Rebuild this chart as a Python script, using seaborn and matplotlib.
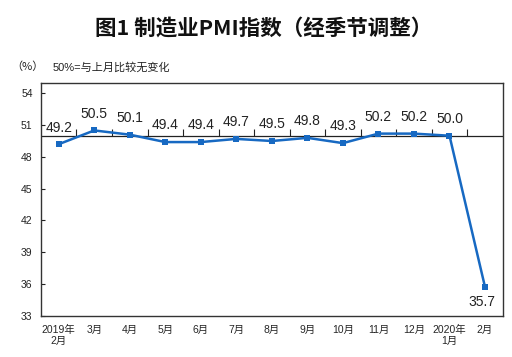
import numpy as np
import pandas as pd
import matplotlib
matplotlib.use("Agg")
import matplotlib.pyplot as plt
import seaborn as sns

months = ["2019年\n2月", "3月", "4月", "5月", "6月", "7月", "8月", "9月",
          "10月", "11月", "12月", "2020年\n1月", "2月"]
pmi = [49.2, 50.5, 50.1, 49.4, 49.4, 49.7, 49.5, 49.8, 49.3, 50.2, 50.2, 50.0, 35.7]
yticks = [33, 36, 39, 42, 45, 48, 51, 54]
title = "图1 制造业PMI指数（经季节调整）"
unit = "（%）"
note = "50%=与上月比较无变化"

sns.set_theme(style="white")
plt.rcParams['font.family'] = ['Liberation Sans', 'Noto Sans CJK SC', 'DejaVu Sans']

df = pd.DataFrame({"x": np.arange(len(months)), "pmi": pmi})

fig = plt.figure(figsize=(5.12, 3.57), dpi=100)
ax = fig.add_axes([0.080, 0.116, 0.902, 0.652])

color = "#1769C2"
sns.lineplot(data=df, x="x", y="pmi", ax=ax, color=color, linewidth=1.8,
             marker="s", markersize=4.5, markeredgewidth=0, markerfacecolor=color)

ax.set_xlim(-0.5, len(months) - 0.5)
ax.set_ylim(33, 55)
ax.set_yticks(yticks)
ax.set_yticklabels([str(v) for v in yticks], fontsize=7.5)
ax.set_xticks(df["x"])
ax.set_xticklabels(months, fontsize=7.5, linespacing=1.1)
ax.tick_params(axis="x", length=0, pad=7)
ax.tick_params(axis="y", direction="in", length=3, width=0.8, left=True, pad=6, colors="#222222")
ax.set_xlabel("")
ax.set_ylabel("")

for s in ax.spines.values():
    s.set_visible(True)
    s.set_color("#333333")
    s.set_linewidth(1.0)

# 50 reference line with category-boundary ticks
ax.axhline(50, color="#222222", linewidth=0.9, zorder=1)
bounds = np.arange(len(months) - 1) + 0.5
ax.plot(bounds, [50] * len(bounds), ls="none", marker=2, markersize=5,
        markeredgewidth=0.8, color="#222222", zorder=1)

for i, v in enumerate(pmi):
    if v < 45:
        ax.annotate(f"{v:.1f}", (i, v), xytext=(-2, -11), textcoords="offset points",
                    ha="center", va="center", fontsize=10, color="#222222")
    else:
        ax.annotate(f"{v:.1f}", (i, v), xytext=(0, 12), textcoords="offset points",
                    ha="center", va="center", fontsize=10, color="#222222")

fig.text(0.515, 0.922, title, ha="center", va="center", fontsize=15.5,
         fontweight="bold", family=['Noto Sans CJK SC', 'DejaVu Sans'], color="#111111")
fig.text(0.023, 0.812, unit, ha="left", va="center", fontsize=8,
         family=['Noto Sans CJK SC', 'DejaVu Sans'], color="#222222")
fig.text(0.103, 0.812, note, ha="left", va="center", fontsize=8,
         family=['Liberation Sans', 'Noto Sans CJK SC'], color="#222222")

fig.savefig("out.png", dpi=100)
